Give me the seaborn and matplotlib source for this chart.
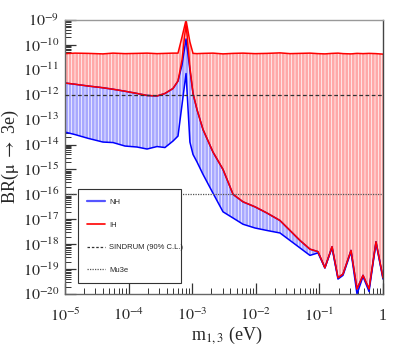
import numpy as np
import pandas as pd
import matplotlib

matplotlib.use("Agg")
import matplotlib.pyplot as plt
import matplotlib.ticker as mticker
from matplotlib.lines import Line2D
import seaborn as sns

# lightest neutrino mass grid (eV)
m_light = [1.00e-5, 1.44e-5, 2.30e-5, 3.95e-5, 5.69e-5, 8.77e-5, 1.36e-4, 1.95e-4,
           2.80e-4, 3.73e-4, 4.99e-4, 5.98e-4, 6.92e-4, 8.00e-4, 9.20e-4, 1.03e-3,
           1.19e-3, 1.48e-3, 2.12e-3, 3.05e-3, 4.39e-3, 6.30e-3, 9.70e-3, 1.50e-2,
           2.40e-2, 3.45e-2, 4.95e-2, 7.10e-2, 9.50e-2, 0.122, 0.158, 0.196,
           0.235, 0.314, 0.390, 0.485, 0.603, 0.776, 1.0]

# log10 BR(mu -> 3e) band edges
ih_max = [-10.35, -10.33, -10.34, -10.36, -10.33, -10.35, -10.34, -10.33,
          -10.35, -10.34, -10.33, -10.33, -9.68, -9.0, -9.88, -10.34,
          -10.35, -10.34, -10.33, -10.36, -10.34, -10.33, -10.35, -10.34,
          -10.32, -10.35, -10.34, -10.33, -10.35, -10.36, -10.34, -10.33,
          -10.35, -10.36, -10.34, -10.35, -10.34, -10.35, -10.37]
ih_min = [-11.53, -11.58, -11.65, -11.72, -11.78, -11.86, -11.95, -12.03,
          -12.05, -11.95, -11.75, -11.45, -10.6, -9.15, -10.9, -11.95,
          -12.6, -13.4, -14.3, -15.0, -16.0, -16.3, -16.5, -16.75,
          -17.05, -17.45, -17.85, -18.2, -18.3, -18.95, -18.1, -19.35,
          -19.2, -18.25, -19.8, -19.25, -19.8, -17.9, -19.35]
nh_max = [-11.53, -11.58, -11.65, -11.72, -11.78, -11.86, -11.95, -12.03,
          -12.05, -11.95, -11.75, -11.45, -10.8, -9.76, -11.0, -11.95,
          -12.6, -13.4, -14.3, -15.0, -16.0, -16.3, -16.5, -16.75,
          -17.05, -17.45, -17.85, -18.2, -18.3, -18.95, -18.1, -19.35,
          -19.2, -18.25, -19.8, -19.25, -19.8, -17.9, -19.35]
nh_min = [-13.5, -13.6, -13.75, -13.9, -13.92, -14.06, -14.1, -14.18,
          -14.08, -14.12, -13.86, -13.66, -12.4, -11.15, -13.9, -14.4,
          -14.7, -15.2, -15.95, -16.7, -16.95, -17.2, -17.35, -17.45,
          -17.55, -17.85, -18.15, -18.45, -18.35, -18.95, -18.15, -19.4,
          -19.25, -18.3, -20.0, -19.3, -19.9, -17.95, -19.4]

sindrum_limit = 1e-12
mu3e_reach = 1e-16

df = pd.DataFrame({
    "m": m_light,
    "ih_max": 10.0 ** np.array(ih_max),
    "ih_min": 10.0 ** np.array(ih_min),
    "nh_max": 10.0 ** np.array(nh_max),
    "nh_min": 10.0 ** np.array(nh_min),
})

sns.set_theme(style="white")
plt.rcParams["font.family"] = ["Liberation Serif", "DejaVu Serif"]
plt.rcParams["mathtext.fontset"] = "stix"
plt.rcParams["hatch.linewidth"] = 0.5

fig, ax = plt.subplots(figsize=(4.07, 3.46), dpi=100)
fig.subplots_adjust(left=65 / 407, right=383 / 407, top=1 - 20 / 346, bottom=1 - 294 / 346)
ax.set_xscale("log")
ax.set_yscale("log")

ax.fill_between(df["m"], df["ih_min"], df["ih_max"], facecolor="#ffa8a8",
                edgecolor="white", hatch="|||||", linewidth=0)
ax.fill_between(df["m"], df["nh_min"], df["nh_max"], facecolor="#a8a8ff",
                edgecolor="white", hatch="|||||", linewidth=0)

for col in ["nh_max", "nh_min"]:
    sns.lineplot(data=df, x="m", y=col, ax=ax, color="#0000ff", lw=1.1,
                 estimator=None, sort=False)
for col in ["ih_max", "ih_min"]:
    sns.lineplot(data=df, x="m", y=col, ax=ax, color="#ff0000", lw=1.1,
                 estimator=None, sort=False)

ax.axhline(sindrum_limit, color="#333333", lw=0.9, ls=(0, (3, 2)), zorder=3)
ax.axhline(mu3e_reach, color="#555555", lw=0.9, ls=(0, (1, 1)), zorder=3)


def fmt_pow(v, pos):
    e = int(round(np.log10(v)))
    return "1" if e == 0 else r"$10^{%d}$" % e


ax.set_xlim(1e-5, 1)
ax.set_ylim(1e-20, 1e-9)
ax.xaxis.set_major_locator(mticker.LogLocator(base=10, numticks=20))
ax.yaxis.set_major_locator(mticker.LogLocator(base=10, numticks=20))
ax.xaxis.set_minor_locator(mticker.LogLocator(base=10, subs=np.arange(2, 10), numticks=100))
ax.yaxis.set_minor_locator(mticker.LogLocator(base=10, subs=np.arange(2, 10), numticks=100))
ax.xaxis.set_major_formatter(mticker.FuncFormatter(fmt_pow))
ax.yaxis.set_major_formatter(mticker.FuncFormatter(fmt_pow))
ax.xaxis.set_minor_formatter(mticker.NullFormatter())
ax.yaxis.set_minor_formatter(mticker.NullFormatter())
ax.tick_params(which="both", direction="in", bottom=True, left=True, top=False, right=False,
               color="#333333", labelsize=11.5)
ax.tick_params(which="major", length=8, width=0.9)
ax.tick_params(which="minor", length=4, width=0.7)
ax.tick_params(axis="x", pad=10)
ax.tick_params(axis="y", pad=4)

for side, c in [("top", "#999999"), ("right", "#444444"),
                ("left", "#666666"), ("bottom", "#666666")]:
    ax.spines[side].set_color(c)
    ax.spines[side].set_linewidth(1.0)

ax.set_xlabel(r"m$_{1,3}$ (eV)", fontsize=13)
ax.xaxis.set_label_coords(0.51, -0.112)
ax.set_ylabel(r"BR($\mathrm{\mu}$ $\rightarrow$ 3e)", fontsize=13)
ax.yaxis.set_label_coords(-0.138, 0.5)

handles = [
    Line2D([], [], color="#5555ff", lw=1.6),
    Line2D([], [], color="#ff0000", lw=1.2),
    Line2D([], [], color="#333333", lw=0.9, ls=(0, (2, 1.5))),
    Line2D([], [], color="#555555", lw=0.9, ls=(0, (1, 1))),
]
leg = ax.legend(handles, ["NH", "IH", "SINDRUM (90% C.L.)", "Mu3e"],
                loc="lower left", bbox_to_anchor=(0.04, 0.04, 0.325, 0.315),
                mode="expand", frameon=True, fancybox=False,
                edgecolor="#333333", framealpha=1, borderaxespad=0,
                handlelength=2.4, handletextpad=0.5, labelspacing=2.0,
                borderpad=1.2, prop={"family": "Liberation Sans", "size": 5.5})
leg.get_frame().set_linewidth(0.8)

fig.savefig("out.png", dpi=100)
